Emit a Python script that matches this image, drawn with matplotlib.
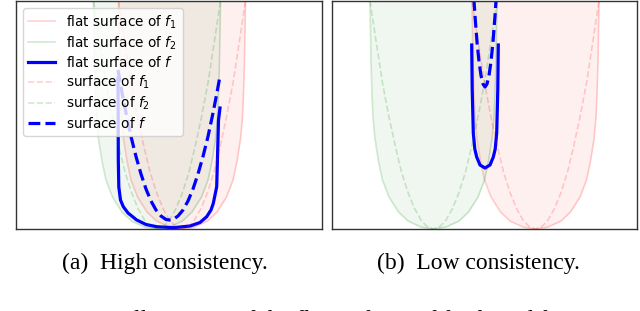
import matplotlib
matplotlib.use("Agg")
import matplotlib.pyplot as plt

# heights (px-like units above the bottom) shared by the flat and parabola shapes
flat_y = [228, 168, 135, 112, 90, 68, 49, 32, 17, 8, 2, 0, 2, 8, 17, 32, 49, 68, 90, 112, 135, 168, 228]
dash_y = [228, 185, 146, 112, 82, 57, 36.5, 20.5, 9, 2.5, 0, 2.5, 9, 20.5, 36.5, 57, 82, 112, 146, 185, 228]

# (a) high consistency
a_flat1_x = [102.5, 103.5, 104.5, 105.5, 107.5, 111, 115, 121.5, 131, 140.5, 153.5, 166,
             178.5, 191.5, 201, 210.5, 217, 221, 224.5, 226.5, 227.5, 228.5, 229.5]
a_flat2_x = [77.5, 78.5, 79.5, 80.5, 82.5, 86, 90, 96.5, 106, 115.5, 128.5, 141,
             153.5, 166.5, 176, 185.5, 192, 196, 199.5, 201.5, 202.5, 203.5, 204.5]
a_dash1_x = [102.5, 109, 115, 121.5, 128, 134, 140.5, 147, 153.5, 159.5, 166,
             172.5, 178.5, 185, 191.5, 198, 204, 210.5, 217, 223, 229.5]
a_dash2_x = [77.5, 84, 90, 96.5, 103, 109, 115.5, 122, 128.5, 134.5, 141,
             147.5, 153.5, 160, 166.5, 173, 179, 185.5, 192, 198, 204.5]
a_flat_x = [102, 102.2, 102.3, 102.8, 104.5, 107.3, 112, 120.7, 130, 140.7, 157.3,
            174, 184, 190.7, 195, 197.3, 200.7, 201.7, 202.5, 204]
a_flat_y = [151, 109, 69, 42, 29, 22.3, 16, 9, 4.5, 2.3, 1.3,
            3, 6.5, 12.3, 19, 25.7, 42.3, 79, 109, 121]
a_surf_x = [102, 106, 110, 115, 120, 125, 130, 135, 140, 145, 150, 153.5,
            157, 162, 167, 172, 177, 182, 187, 192, 197, 201, 204]
a_surf_y = [159, 136.5, 116, 92.5, 72.5, 55, 40, 28, 19, 13, 9.5, 9,
            9.5, 13, 19, 28, 40, 55, 72.5, 92.5, 116, 136.5, 153]

# (b) low consistency
b_flat1_x = [140, 141, 142, 143, 145, 148.5, 152.5, 159, 168.5, 178, 191, 203.5,
             216, 229, 238.5, 248, 254.5, 258.5, 262, 264, 265, 266, 267]
b_flat2_x = [38, 39, 40, 41, 43, 46.5, 50.5, 57, 66.5, 76, 89, 101.5,
             114, 127, 136.5, 146, 152.5, 156.5, 160, 162, 163, 164, 165]
b_dash1_x = [140, 146.5, 152.5, 159, 165.5, 171.5, 178, 184.5, 191, 197, 203.5,
             210, 216, 222.5, 229, 235.5, 241.5, 248, 254.5, 260.5, 267]
b_dash2_x = [38, 44.5, 50.5, 57, 63.5, 69.5, 76, 82.5, 89, 95, 101.5,
             108, 114, 120.5, 127, 133.5, 139.5, 146, 152.5, 158.5, 165]
b_flat_x = [139.7, 140.2, 141.3, 142.8, 144.7, 148, 153, 158, 161.3, 163.2, 164.7, 165.8, 166.3]
b_flat_y = [184, 140, 96, 80, 72, 64, 61, 64, 72, 80, 96, 140, 184]
b_surf_x = [141.5, 143, 145, 147, 149, 151, 153, 155, 157, 159, 161, 163, 164.5]
b_surf_y = [236, 213, 187, 167.5, 153.5, 145, 142, 145, 153.5, 167.5, 187, 213, 236]

captions = ["(a)  High consistency.", "(b)  Low consistency."]
TOP = 228


def draw_panel(ax, flat1_x, flat2_x, dash1_x, dash2_x, fx, fy, sx, sy, width):
    ax.plot(flat1_x, flat_y, color="red", alpha=0.18, lw=1.2, label="flat surface of $f_1$")
    ax.fill_between(flat1_x, flat_y, TOP, color="red", alpha=0.06, lw=0)
    ax.plot(flat2_x, flat_y, color="green", alpha=0.18, lw=1.2, label="flat surface of $f_2$")
    ax.fill_between(flat2_x, flat_y, TOP, color="green", alpha=0.06, lw=0)
    ax.plot(fx, fy, color="blue", lw=2.3, label="flat surface of $f$")
    ax.plot(dash1_x, dash_y, "--", color="red", alpha=0.18, lw=1.2, label="surface of $f_1$")
    ax.plot(dash2_x, dash_y, "--", color="green", alpha=0.18, lw=1.2, label="surface of $f_2$")
    ax.plot(sx, sy, "--", color="blue", lw=2.3, label="surface of $f$")
    ax.set_xlim(0, width)
    ax.set_ylim(0, TOP)
    ax.set_xticks([])
    ax.set_yticks([])
    for sp in ax.spines.values():
        sp.set_color("#333333")
        sp.set_linewidth(1.0)


fig = plt.figure(figsize=(6.4, 3.11), dpi=100)
ax1 = fig.add_axes([16 / 640, 82 / 311, 306 / 640, 228 / 311])
ax2 = fig.add_axes([332 / 640, 82 / 311, 305 / 640, 228 / 311])

draw_panel(ax1, a_flat1_x, a_flat2_x, a_dash1_x, a_dash2_x, a_flat_x, a_flat_y, a_surf_x, a_surf_y, 306)
draw_panel(ax2, b_flat1_x, b_flat2_x, b_dash1_x, b_dash2_x, b_flat_x, b_flat_y, b_surf_x, b_surf_y, 305)

ax1.legend(loc="upper left", fontsize=9.8, handlelength=2.0, labelspacing=0.26,
           borderpad=0.4, handletextpad=0.8)

fig.text(165 / 640, 1 - 263 / 311, captions[0], family="Liberation Serif", fontsize=17,
         ha="center", va="center")
fig.text(478 / 640, 1 - 263 / 311, captions[1], family="Liberation Serif", fontsize=17,
         ha="center", va="center")
# caption of the page, cut off by the bottom edge as in the screenshot
fig.text(0.003, -0.049, "Figure 1: An illustration of the flat surfaces of f1, f2 and f.",
         family="Liberation Serif", fontsize=17, va="baseline")

fig.savefig("out.png", dpi=100)
